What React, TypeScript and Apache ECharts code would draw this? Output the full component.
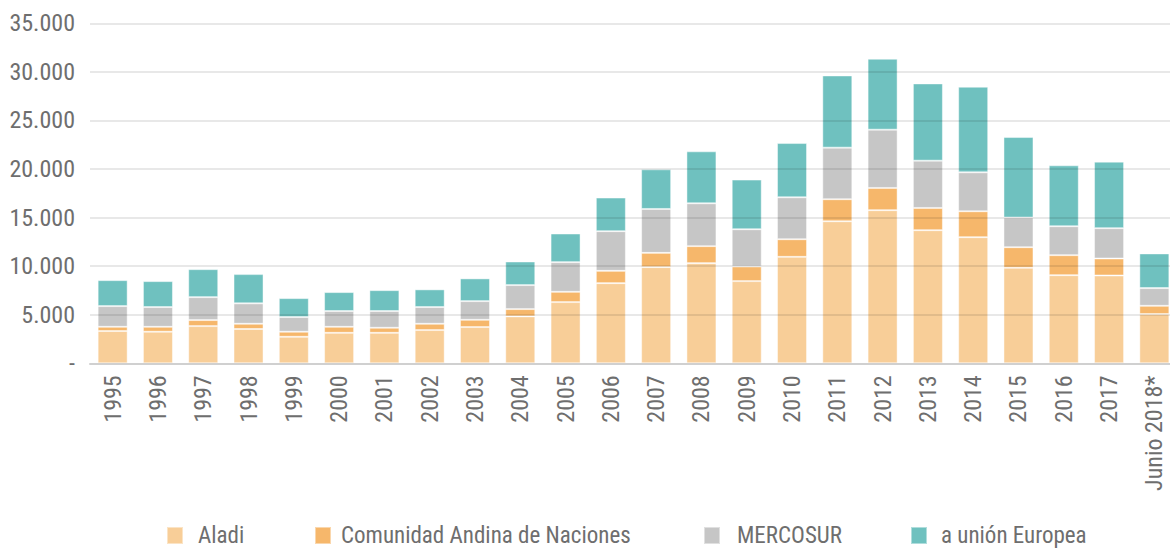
import React, { useEffect, useRef } from "react";
import * as echarts from "echarts";

const categories = [
  "1995", "1996", "1997", "1998", "1999", "2000", "2001", "2002", "2003", "2004", "2005", "2006",
  "2007", "2008", "2009", "2010", "2011", "2012", "2013", "2014", "2015", "2016", "2017", "Junio 2018*",
];

const aladi = [
  3320, 3250, 3830, 3530, 2730, 3140, 3140, 3420, 3730, 4830, 6300, 8250,
  9900, 10310, 8460, 10960, 14620, 15760, 13700, 12980, 9830, 9070, 9040, 5070,
];
const comunidadAndina = [
  440, 510, 620, 540, 520, 620, 520, 650, 750, 750, 1060, 1270,
  1470, 1750, 1510, 1810, 2270, 2290, 2290, 2670, 2120, 2060, 1750, 850,
];
const mercosur = [
  2130, 2030, 2360, 2100, 1510, 1620, 1720, 1720, 1920, 2470, 3050, 4080,
  4520, 4410, 3830, 4320, 5310, 6000, 4870, 4010, 3050, 2980, 3120, 1820,
];
const unionEuropea = [
  2670, 2670, 2880, 3010, 1950, 1950, 2150, 1820, 2340, 2430, 2950, 3460,
  4080, 5350, 5110, 5580, 7430, 7300, 7950, 8810, 8290, 6270, 6850, 3570,
];

const seriesNames = ["Aladi", "Comunidad Andina de Naciones", "MERCOSUR", "a unión Europea"];
const seriesColors = ["#F8CE98", "#F6B76B", "#C6C6C6", "#6FC1BF"];
const seriesValues = [aladi, comunidadAndina, mercosur, unionEuropea];

const FONT = "'Liberation Sans Narrow', 'Roboto Condensed', Roboto, sans-serif";
const TEXT_COLOR = "#6e6e6e";

function fmt(v: number): string {
  if (v === 0) return "-";
  return String(v).replace(/\B(?=(\d{3})+(?!\d))/g, ".");
}

const legendLefts = [166, 314, 703, 910];
const legendTextPad = [10, 5, 12, 9];

export default function App() {
  const ref = useRef<HTMLDivElement>(null);

  useEffect(() => {
    if (!ref.current) return;
    const chart = echarts.init(ref.current, null, { renderer: "svg" });
    chart.setOption({
      animation: false,
      backgroundColor: "#ffffff",
      textStyle: { fontFamily: FONT },
      grid: {
        left: 90,
        top: 23.3,
        width: 1087,
        bottom: 184.7,
        containLabel: false,
        outerBoundsMode: "none",
      },
      legend: seriesNames.map((name, i) => ({
        data: [name],
        left: legendLefts[i],
        top: 524,
        padding: 0,
        itemWidth: 16,
        itemHeight: 17,
        icon: "rect",
        selectedMode: false,
        textStyle: {
          fontFamily: FONT,
          fontSize: 23,
          lineHeight: 17,
          color: TEXT_COLOR,
          padding: [0, 0, 0, legendTextPad[i]],
        },
      })),
      xAxis: {
        type: "category",
        data: categories,
        z: 3,
        axisLine: { show: true, lineStyle: { color: "#d0d0d0", width: 2 } },
        axisTick: { show: false },
        axisLabel: {
          rotate: 90,
          interval: 0,
          margin: 12,
          fontFamily: FONT,
          fontSize: 24,
          color: TEXT_COLOR,
        },
      },
      yAxis: {
        type: "value",
        min: 0,
        max: 35000,
        interval: 5000,
        z: 3,
        axisLine: { show: false },
        axisTick: { show: false },
        splitLine: { show: true, lineStyle: { color: "rgba(0,0,0,0.09)", width: 2 } },
        axisLabel: {
          formatter: (v: number) => fmt(v),
          margin: 15,
          fontFamily: FONT,
          fontSize: 24,
          color: TEXT_COLOR,
        },
      },
      series: seriesNames.map((name, i) => ({
        name,
        type: "bar",
        stack: "total",
        barWidth: 30,
        data: seriesValues[i],
        itemStyle: {
          color: seriesColors[i],
          borderColor: "rgba(255,255,255,0.45)",
          borderWidth: 1,
        },
      })),
    });
    return () => chart.dispose();
  }, []);

  return <div ref={ref} style={{ width: 1170, height: 548, position: "absolute", left: 0, top: 0 }} />;
}
